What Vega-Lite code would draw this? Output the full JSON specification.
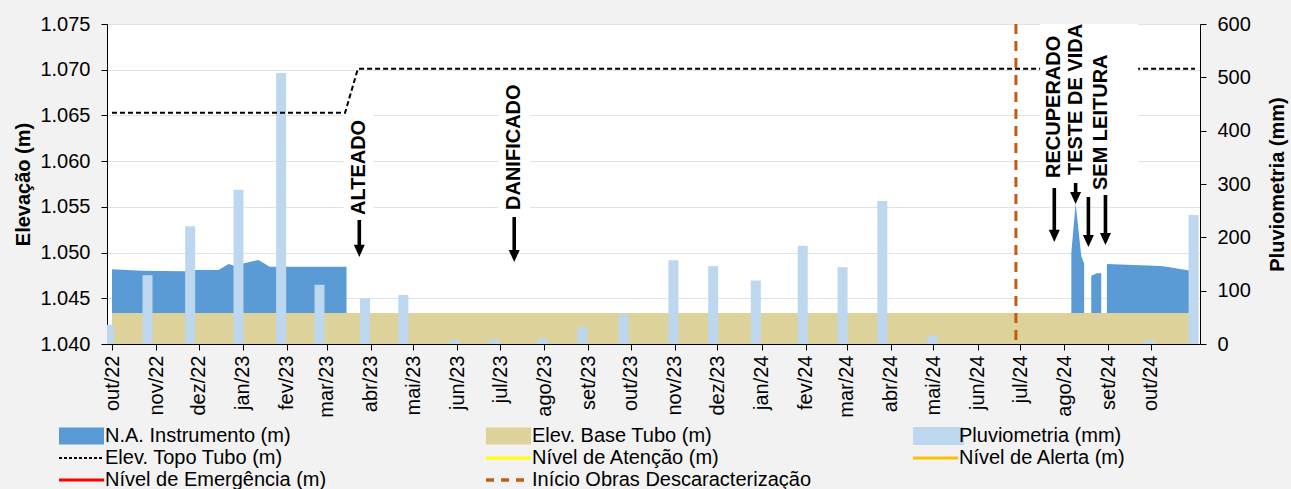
{
  "$schema": "https://vega.github.io/schema/vega-lite/v6.json",
  "width": 1093,
  "height": 320,
  "autosize": {"type": "none"},
  "padding": {"left": 107, "top": 24, "right": 91, "bottom": 145},
  "background": "#F2F2F2",
  "config": {
    "view": {"fill": "white", "stroke": null},
    "font": "Liberation Sans",
    "axis": {
      "labelFont": "Liberation Sans", "labelFontSize": 20, "labelColor": "#000000",
      "titleFont": "Liberation Sans", "titleFontSize": 20, "titleFontWeight": "bold", "titleColor": "#000000",
      "domainColor": "#000000", "tickColor": "#000000", "tickSize": 6, "gridColor": "#DCE3EC"
    }
  },
  "datasets": {
    "na": [
      {"d": "2022-10-01", "v": 1.04817, "s": 1},
      {"d": "2022-10-22", "v": 1.04802, "s": 1},
      {"d": "2022-11-21", "v": 1.04795, "s": 1},
      {"d": "2022-11-29", "v": 1.04809, "s": 1},
      {"d": "2022-12-15", "v": 1.04809, "s": 1},
      {"d": "2022-12-22", "v": 1.04875, "s": 1},
      {"d": "2022-12-26", "v": 1.04855, "s": 1},
      {"d": "2023-01-02", "v": 1.04883, "s": 1},
      {"d": "2023-01-12", "v": 1.04919, "s": 1},
      {"d": "2023-01-20", "v": 1.04845, "s": 1},
      {"d": "2023-02-01", "v": 1.04845, "s": 1},
      {"d": "2023-03-15", "v": 1.04845, "s": 1},
      {"d": "2024-08-06", "v": 1.0500, "s": 2},
      {"d": "2024-08-09", "v": 1.0554, "s": 2},
      {"d": "2024-08-13", "v": 1.0496, "s": 2},
      {"d": "2024-08-15", "v": 1.0488, "s": 2},
      {"d": "2024-08-20", "v": 1.04747, "s": 3},
      {"d": "2024-08-24", "v": 1.04773, "s": 3},
      {"d": "2024-08-27", "v": 1.04773, "s": 3},
      {"d": "2024-08-31", "v": 1.04875, "s": 4},
      {"d": "2024-10-08", "v": 1.04853, "s": 4},
      {"d": "2024-10-14", "v": 1.04839, "s": 4},
      {"d": "2024-10-29", "v": 1.04800, "s": 4}
    ],
    "base": [
      {"d": "2022-10-01", "v": 1.0434},
      {"d": "2024-10-29", "v": 1.0434}
    ],
    "chuva": [
      {"d": "2022-09-29", "mm": 36},
      {"d": "2022-10-26", "mm": 129},
      {"d": "2022-11-25", "mm": 221},
      {"d": "2022-12-29", "mm": 289},
      {"d": "2023-01-28", "mm": 508},
      {"d": "2023-02-24", "mm": 111},
      {"d": "2023-03-28", "mm": 86},
      {"d": "2023-04-24", "mm": 92},
      {"d": "2023-05-30", "mm": 7},
      {"d": "2023-06-27", "mm": 9},
      {"d": "2023-07-31", "mm": 10},
      {"d": "2023-08-28", "mm": 32},
      {"d": "2023-09-26", "mm": 56},
      {"d": "2023-10-31", "mm": 157},
      {"d": "2023-11-28", "mm": 146},
      {"d": "2023-12-28", "mm": 119},
      {"d": "2024-01-30", "mm": 184},
      {"d": "2024-02-27", "mm": 144},
      {"d": "2024-03-26", "mm": 268},
      {"d": "2024-04-30", "mm": 16},
      {"d": "2024-09-30", "mm": 7},
      {"d": "2024-10-31", "mm": 242}
    ],
    "topo": [
      {"d": "2022-10-01", "v": 1.0653},
      {"d": "2023-03-14", "v": 1.0653},
      {"d": "2023-03-23", "v": 1.0701},
      {"d": "2024-11-01", "v": 1.0701}
    ],
    "obras": [
      {"d": "2024-06-28"}
    ],
    "boxes": [
      {"d1": "2023-03-13", "d2": "2023-04-03", "v1": 1.0539, "v2": 1.0651},
      {"d1": "2023-06-30", "d2": "2023-07-22", "v1": 1.05444, "v2": 1.0686},
      {"d1": "2024-07-15", "d2": "2024-09-22", "v1": 1.0568, "v2": 1.0755}
    ],
    "labels": [
      {"d": "2023-03-24", "v": 1.05411, "t": "ALTEADO"},
      {"d": "2023-07-11", "v": 1.05466, "t": "DANIFICADO"},
      {"d": "2024-07-25", "v": 1.05816, "t": "RECUPERADO"},
      {"d": "2024-08-09", "v": 1.05848, "t": "TESTE DE VIDA"},
      {"d": "2024-08-27", "v": 1.05684, "t": "SEM LEITURA"}
    ],
    "arrows": [
      {"d": "2023-03-24", "top": 1.05356, "tip": 1.04952},
      {"d": "2023-07-11", "top": 1.05389, "tip": 1.04897},
      {"d": "2024-07-25", "top": 1.05706, "tip": 1.05116},
      {"d": "2024-08-09", "top": 1.05761, "tip": 1.05531},
      {"d": "2024-08-18", "top": 1.05608, "tip": 1.05061},
      {"d": "2024-08-30", "top": 1.0563, "tip": 1.05083}
    ]
  },
  "layer": [
    {
      "layer": [
        {
          "data": {"name": "na"},
          "mark": {"type": "area", "color": "#5B9BD5", "opacity": 1, "clip": true},
          "encoding": {
            "x": {
              "field": "d", "type": "temporal",
              "scale": {"type": "utc", "domain": [{"year": 2022, "month": "oct", "date": 1, "utc": true}, {"year": 2024, "month": "nov", "date": 1, "utc": true}]},
              "axis": {
                "title": null, "grid": false, "labelAngle": 270, "labelPadding": 5,
                "labelExpr": "['jan','fev','mar','abr','mai','jun','jul','ago','set','out','nov','dez'][utcmonth(datum.value)] + '/' + utcFormat(datum.value, '%y')",
                "values": [
                  {"year": 2022, "month": "oct", "date": 1, "utc": true},
                  {"year": 2022, "month": "nov", "date": 1, "utc": true},
                  {"year": 2022, "month": "dec", "date": 1, "utc": true},
                  {"year": 2023, "month": "jan", "date": 1, "utc": true},
                  {"year": 2023, "month": "feb", "date": 1, "utc": true},
                  {"year": 2023, "month": "mar", "date": 1, "utc": true},
                  {"year": 2023, "month": "apr", "date": 1, "utc": true},
                  {"year": 2023, "month": "may", "date": 1, "utc": true},
                  {"year": 2023, "month": "jun", "date": 1, "utc": true},
                  {"year": 2023, "month": "jul", "date": 1, "utc": true},
                  {"year": 2023, "month": "aug", "date": 1, "utc": true},
                  {"year": 2023, "month": "sep", "date": 1, "utc": true},
                  {"year": 2023, "month": "oct", "date": 1, "utc": true},
                  {"year": 2023, "month": "nov", "date": 1, "utc": true},
                  {"year": 2023, "month": "dec", "date": 1, "utc": true},
                  {"year": 2024, "month": "jan", "date": 1, "utc": true},
                  {"year": 2024, "month": "feb", "date": 1, "utc": true},
                  {"year": 2024, "month": "mar", "date": 1, "utc": true},
                  {"year": 2024, "month": "apr", "date": 1, "utc": true},
                  {"year": 2024, "month": "may", "date": 1, "utc": true},
                  {"year": 2024, "month": "jun", "date": 1, "utc": true},
                  {"year": 2024, "month": "jul", "date": 1, "utc": true},
                  {"year": 2024, "month": "aug", "date": 1, "utc": true},
                  {"year": 2024, "month": "sep", "date": 1, "utc": true},
                  {"year": 2024, "month": "oct", "date": 1, "utc": true}
                ]
              }
            },
            "y": {
              "field": "v", "type": "quantitative", "stack": null,
              "scale": {"domain": [1.04, 1.075], "nice": false, "zero": false},
              "axis": {"title": "Elevação (m)", "orient": "left", "values": [1.04, 1.045, 1.05, 1.055, 1.06, 1.065, 1.07, 1.075], "format": ".3f", "grid": true, "labelPadding": 11, "titlePadding": 6}
            },
            "y2": {"datum": 1.04},
            "detail": {"field": "s"}
          }
        },
        {
          "data": {"name": "base"},
          "mark": {"type": "area", "color": "#DDD39A", "opacity": 1, "clip": true},
          "encoding": {
            "x": {"field": "d", "type": "temporal"},
            "y": {"field": "v", "type": "quantitative", "stack": null},
            "y2": {"datum": 1.04}
          }
        }
      ]
    },
    {
      "data": {"name": "chuva"},
      "mark": {"type": "bar", "size": 10, "color": "#BDD7EE", "clip": true},
      "encoding": {
        "x": {"field": "d", "type": "temporal"},
        "y": {
          "field": "mm", "type": "quantitative",
          "scale": {"domain": [0, 600], "nice": false},
          "axis": {"title": "Pluviometria (mm)", "orient": "right", "values": [0, 100, 200, 300, 400, 500, 600], "grid": false, "labelPadding": 11, "titleAngle": 270, "titlePadding": 37}
        }
      }
    },
    {
      "layer": [
        {
          "data": {"name": "topo"},
          "mark": {"type": "line", "strokeWidth": 2, "strokeDash": [5, 3], "clip": true},
          "encoding": {
            "x": {"field": "d", "type": "temporal"},
            "y": {"field": "v", "type": "quantitative", "scale": {"domain": [1.04, 1.075], "nice": false, "zero": false}, "axis": null},
            "color": {
              "datum": "Elev. Topo Tubo (m)",
              "scale": {
                "domain": ["N.A. Instrumento (m)", "Elev. Base Tubo (m)", "Pluviometria (mm)", "Elev. Topo Tubo (m)", "Nível de Atenção (m)", "Nível de Alerta (m)", "Nível de Emergência (m)", "Início Obras Descaracterização"],
                "range": ["#5B9BD5", "#DDD39A", "#BDD7EE", "#000000", "#FFFF00", "#FFC000", "#FF0000", "#C55A11"]
              },
              "legend": {
                "title": null, "orient": "none", "legendX": -51, "legendY": 402,
                "direction": "horizontal", "columns": 3, "gridAlign": "all", "columnPadding": 94, "rowPadding": 2, "padding": 0,
                "labelFont": "Liberation Sans", "labelFontSize": 20, "labelColor": "#000000", "labelLimit": 600,
                "symbolSize": 100, "symbolStrokeWidth": 0, "labelOffset": 29, "symbolType": "stroke",
                "encode": {
                  "symbols": {
                    "update": {
                      "shape": {"signal": "(datum.value === 'N.A. Instrumento (m)' || datum.value === 'Elev. Base Tubo (m)') ? 'M-1.4,-1.7H7.6V1.7H-1.4Z' : datum.value === 'Pluviometria (mm)' ? 'M-1.4,-1.8H8.8V1.8H-1.4Z' : 'M-1.4,0H7.6'"},
                      "fill": {"signal": "datum.value === 'N.A. Instrumento (m)' ? '#5B9BD5' : datum.value === 'Elev. Base Tubo (m)' ? '#DDD39A' : datum.value === 'Pluviometria (mm)' ? '#BDD7EE' : 'transparent'"},
                      "stroke": {"signal": "datum.value === 'Elev. Topo Tubo (m)' ? '#000000' : datum.value === 'Nível de Atenção (m)' ? '#FFFF00' : datum.value === 'Nível de Alerta (m)' ? '#FFC000' : datum.value === 'Nível de Emergência (m)' ? '#FF0000' : datum.value === 'Início Obras Descaracterização' ? '#C55A11' : 'transparent'"},
                      "strokeWidth": {"signal": "datum.value === 'Elev. Topo Tubo (m)' ? 2 : datum.value === 'Início Obras Descaracterização' ? 3.5 : (datum.value === 'N.A. Instrumento (m)' || datum.value === 'Elev. Base Tubo (m)' || datum.value === 'Pluviometria (mm)') ? 0 : 3"},
                      "strokeDash": {"signal": "datum.value === 'Elev. Topo Tubo (m)' ? [3,2] : datum.value === 'Início Obras Descaracterização' ? [8,7] : [1,0]"},
                      "opacity": {"value": 1},
                      "fillOpacity": {"value": 1},
                      "strokeOpacity": {"value": 1}
                    }
                  }
                }
              }
            }
          }
        },
        {
          "mark": {"type": "rule", "color": "#FFFF00", "strokeWidth": 2.5},
          "encoding": {"y": {"datum": 1.05, "type": "quantitative", "axis": null}}
        },
        {
          "mark": {"type": "rule", "color": "#FFC000", "strokeWidth": 2.5},
          "encoding": {"y": {"datum": 1.0525, "type": "quantitative", "axis": null}}
        },
        {
          "mark": {"type": "rule", "color": "#FF0000", "strokeWidth": 2.5},
          "encoding": {"y": {"datum": 1.055, "type": "quantitative", "axis": null}}
        },
        {
          "data": {"name": "obras"},
          "mark": {"type": "rule", "color": "#C55A11", "strokeWidth": 3, "strokeDash": [10, 7]},
          "encoding": {"x": {"field": "d", "type": "temporal"}}
        },
        {
          "data": {"name": "boxes"},
          "mark": {"type": "rect", "color": "white", "opacity": 1, "clip": true},
          "encoding": {
            "x": {"field": "d1", "type": "temporal"},
            "x2": {"field": "d2"},
            "y": {"field": "v1", "type": "quantitative", "axis": null},
            "y2": {"field": "v2"}
          }
        },
        {
          "data": {"name": "labels"},
          "mark": {"type": "text", "angle": 270, "align": "left", "baseline": "middle", "font": "Liberation Sans", "fontSize": 20, "fontWeight": "bold", "color": "#000000"},
          "encoding": {
            "x": {"field": "d", "type": "temporal"},
            "y": {"field": "v", "type": "quantitative", "axis": null},
            "text": {"field": "t"}
          }
        },
        {
          "data": {"name": "arrows"},
          "mark": {"type": "rule", "color": "#000000", "strokeWidth": 3.6, "y2Offset": -6},
          "encoding": {
            "x": {"field": "d", "type": "temporal"},
            "y": {"field": "top", "type": "quantitative", "axis": null},
            "y2": {"field": "tip"}
          }
        },
        {
          "data": {"name": "arrows"},
          "mark": {"type": "point", "shape": "M-1,-2.2L1,-2.2L0,0Z", "size": 121, "filled": true, "color": "#000000", "opacity": 1, "strokeWidth": 0},
          "encoding": {
            "x": {"field": "d", "type": "temporal"},
            "y": {"field": "tip", "type": "quantitative", "axis": null}
          }
        }
      ]
    }
  ],
  "resolve": {"scale": {"y": "independent"}}
}
